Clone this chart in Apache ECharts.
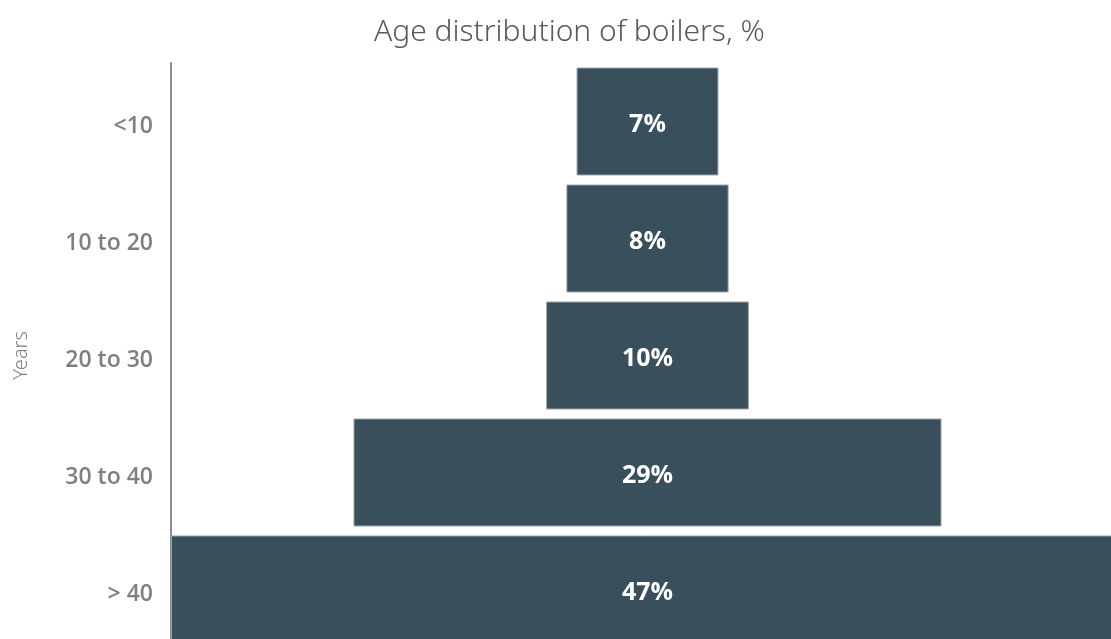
<!DOCTYPE html>
<html>
<head>
<meta charset="utf-8">
<script src="https://cdn.jsdelivr.net/npm/echarts@6/dist/echarts.min.js"></script>
<style>html,body{margin:0;padding:0;background:#fff;overflow:hidden;width:1111px;height:639px}#c{width:1124px;height:651px}</style>
</head>
<body>
<div id="c"></div>
<script>
const categories = ['<10', '10 to 20', '20 to 30', '30 to 40', '> 40'];
const shares = [7, 8, 10, 29, 47];
const titleText = 'Age distribution of boilers, %';
const axisName = 'Years';

const maxShare = Math.max(...shares);
const offsets = shares.map(v => (maxShare - v) / 2);

const chart = echarts.init(document.getElementById('c'));
chart.setOption({
  animation: false,
  title: {
    text: titleText,
    left: 369, top: 12,
    textStyle: { fontFamily: 'Noto Sans', fontWeight: 300, fontSize: 30, color: '#595959' }
  },
  grid: { left: 171, right: 0, top: 63, bottom: 3 },
  xAxis: { type: 'value', min: 0, max: maxShare, show: false },
  yAxis: {
    type: 'category', data: categories, inverse: true,
    name: axisName, nameLocation: 'middle', nameGap: 140, nameRotate: 90,
    nameTextStyle: { fontFamily: 'Noto Sans', fontWeight: 300, fontSize: 20, color: '#7f7f7f' },
    axisLine: { show: true, lineStyle: { color: '#8c8c8c', width: 2 } },
    axisTick: { show: false },
    axisLabel: {
      margin: 18,
      formatter: v => '{a|' + v + '}',
      rich: { a: { padding: [9, 0, 0, 0], fontFamily: 'Open Sans', fontSize: 23, fontWeight: 600, color: '#7f7f7f' } }
    }
  },
  series: [
    {
      type: 'bar', stack: 's', data: offsets, silent: true,
      itemStyle: { color: 'transparent' }, barCategoryGap: '7.7%'
    },
    {
      type: 'bar', stack: 's', data: shares, barCategoryGap: '7.7%',
      itemStyle: { color: '#3a4f5c', borderColor: '#9aa4aa', borderWidth: 1 },
      label: {
        show: true, position: 'inside', offset: [0, 3], formatter: p => p.value + '%',
        fontFamily: 'Open Sans', fontWeight: 'bold', fontSize: 25, color: '#ffffff'
      }
    }
  ]
});
</script>
</body>
</html>
